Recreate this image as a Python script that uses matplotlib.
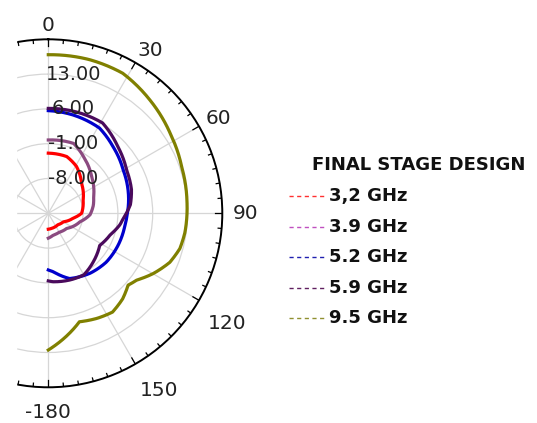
import numpy as np
import matplotlib
matplotlib.use('Agg')
import matplotlib.pyplot as plt
from matplotlib.lines import Line2D
from matplotlib.patches import Rectangle

# angles (deg) and gain (dB)
ang_32 = [0, 18, 31, 48, 69, 90, 101, 119, 140, 167, 180]
gain_32 = [-2.9, -3.0, -4.0, -6.0, -7.5, -8.3, -9.9, -11.5, -12.0, -11.9, -11.8]

ang_39 = [0, 20, 32, 50, 70, 80, 92, 105, 129, 150, 167, 180]
gain_39 = [-0.25, -0.05, -1.6, -3.6, -5.3, -5.8, -6.6, -8.4, -10.2, -10.6, -10.5, -10.0]

ang_52 = [0, 14, 31, 44, 60, 76, 90, 99, 114, 130, 145, 162, 175, 180]
gain_52 = [5.65, 5.4, 5.0, 3.7, 2.4, 1.6, 0.9, 0.6, 0.45, 0.25, -0.3, -1.2, -3.2, -3.6]

ang_59 = [0, 31, 46, 61, 74, 84, 94, 99, 109, 122, 137, 150, 162, 176, 180]
gain_59 = [6.1, 6.2, 4.4, 3.0, 2.4, 1.6, 0.1, -0.4, -1.8, -2.8, -1.7, -0.7, -0.9, -1.2, -1.4]

ang_95 = [0, 15, 28, 42, 57, 71, 85, 98, 105, 112, 120, 127, 132, 139, 147, 155, 164, 171, 180]
gain_95 = [16.9, 17.0, 16.9, 15.6, 14.3, 13.4, 13.0, 12.75, 12.4, 11.35, 9.3, 7.3, 6.6, 7.8, 8.7, 8.3, 7.7, 9.8, 12.5]

labels = ['3,2 GHz', '3.9 GHz', '5.2 GHz', '5.9 GHz', '9.5 GHz']
colors = ['#ff0000', '#8b4a80', '#0000cc', '#4a0a5c', '#808000']
legend_colors = ['#ff3030', '#c050c0', '#2020b0', '#602060', '#909030']
series = [(ang_32, gain_32), (ang_39, gain_39), (ang_52, gain_52),
          (ang_59, gain_59), (ang_95, gain_95)]

r_ticks = [-8, -1, 6, 13]
r_min, r_max = -15, 20
theta_labels = ['0', '30', '60', '90', '120', '150', '-180']
theta_label_pos = [(0, 188), (32, 192), (61, 195), (90, 197), (121.6, 210), (148, 209), (180, 199)]

W, H = 537, 423
fig = plt.figure(figsize=(W / 100, H / 100), dpi=100)
cx, cy, R = 48.3, 213.3, 174
ax = fig.add_axes([(cx - R) / W, (H - cy - R) / H, 2 * R / W, 2 * R / H], projection='polar')
ax.set_theta_zero_location('N')
ax.set_theta_direction(-1)
ax.set_rlim(r_min, r_max)

def px_to_r(p):
    return r_min + p / R * (r_max - r_min)

for (a, g), c in zip(series, colors):
    ln, = ax.plot(np.radians(a), g, color=c, lw=2.3, zorder=3)
    ln.get_path()._interpolation_steps = 30

ax.set_rticks(r_ticks + [r_max])
ax.set_yticklabels([])
ax.set_xticks(np.radians(np.arange(0, 360, 30)))
ax.set_xticklabels([])
ax.tick_params(axis='x', length=0)
ax.grid(True, color='#d6d6d6', lw=0.9)
ax.spines['polar'].set_linewidth(1.4)
ax.spines['polar'].set_color('black')

# tick marks on the rim, pointing inward
for deg in range(0, 360, 5):
    ln = 7 if deg % 30 == 0 else 3.5
    t = np.radians(deg)
    ax.plot([t, t], [r_max, px_to_r(R - ln)], color='black', lw=0.9, zorder=5)

for lab, (deg, p) in zip(theta_labels, theta_label_pos):
    ax.text(np.radians(deg), px_to_r(p), lab, ha='center', va='center',
            fontsize=14.5, color='#222222', clip_on=False)

for v in r_ticks:
    ax.annotate(f'{v:.2f}', xy=(0.0, v), xytext=(25, 0), textcoords='offset pixels',
                ha='center', va='center', fontsize=14, color='#222222', zorder=4)

# white strip covering the clipped left side
fig.patches.append(Rectangle((0, 0), 16 / W, 1, transform=fig.transFigure,
                             color='white', zorder=10))

fig.text(312 / W, 1 - 165 / H, 'FINAL STAGE DESIGN', fontsize=13,
         fontweight='bold', va='center', ha='left', color='#111111')
for i, (lab, c) in enumerate(zip(labels, legend_colors)):
    y = 1 - (196 + i * 30.5) / H
    fig.lines.append(Line2D([289 / W, 327 / W], [y, y], transform=fig.transFigure,
                            color=c, lw=1, ls=(0, (3, 2.5))))
    fig.text(329 / W, y, lab, fontsize=13, fontweight='bold', va='center',
             ha='left', color='#111111')

fig.savefig('out.png', dpi=100, facecolor='white')
